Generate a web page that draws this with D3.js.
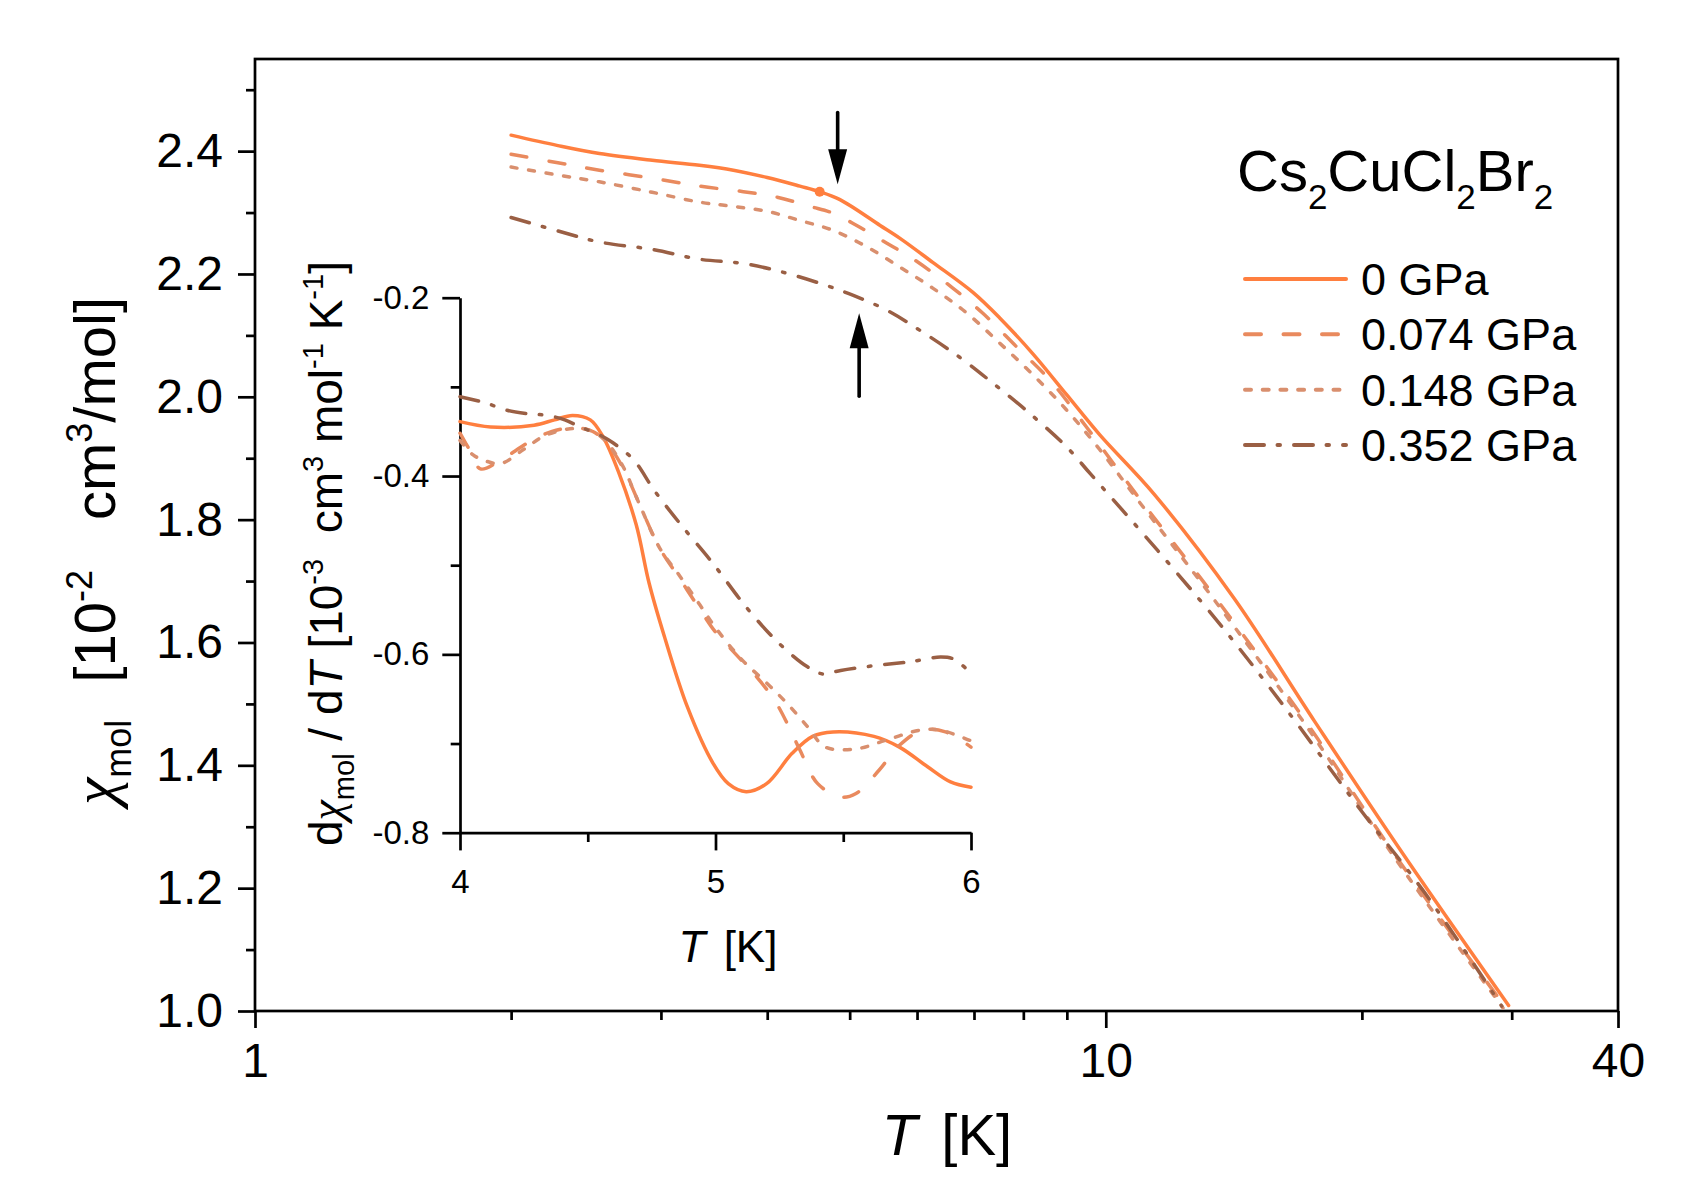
<!DOCTYPE html>
<html>
<head>
<meta charset="utf-8">
<script src="https://cdn.jsdelivr.net/npm/d3@7"></script>
<style>
  body { margin: 0; background: #fff; }
  svg { display: block; font-family: "Liberation Sans", Arial, sans-serif; }
  text { white-space: pre; }
</style>
</head>
<body>
<svg id="chart" width="1705" height="1190"></svg>
<script>
// ---- ticks ----
var tMajor = [1, 10, 40];
var tMinor = [2, 3, 4, 5, 6, 7, 8, 9, 20, 30];
var chiMajor = [1.0, 1.2, 1.4, 1.6, 1.8, 2.0, 2.2, 2.4];
var chiMinor = [1.1, 1.3, 1.5, 1.7, 1.9, 2.1, 2.3, 2.5];
var insetTMajor = [4, 5, 6];
var insetTMinor = [4.5, 5.5];
var dchiMajor = [-0.8, -0.6, -0.4, -0.2];
var dchiMinor = [-0.7, -0.5, -0.3];

// ---- series ----
var pressures = ["0 GPa", "0.074 GPa", "0.148 GPa", "0.352 GPa"];
var colors = ["#ff7f3f", "#e98a5e", "#d98f6e", "#9a5f44"];
var dashes = [null, "16,22.5", "6,11.7", "19,13.5,2.5,14"];

// chi_mol [1e-2 cm3/mol] vs T [K]
var chi0 = [[2.0,2.426],[2.27,2.409],[2.54,2.396],[2.93,2.385],[3.33,2.377],[3.65,2.369],[4.0,2.357],[4.37,2.343],[4.61,2.334],[4.87,2.321],[5.43,2.279],[5.73,2.258],[6.26,2.219],[6.98,2.170],[7.51,2.128],[8.21,2.070],[9.0,2.003],[9.84,1.938],[11.39,1.842],[14.15,1.672],[17.59,1.472],[22.4,1.254],[29.75,1.009]];
var chi074 = [[2.0,2.395],[2.27,2.381],[2.54,2.369],[2.93,2.356],[3.33,2.343],[3.75,2.334],[4.11,2.325],[4.49,2.31],[4.78,2.299],[5.14,2.276],[5.53,2.25],[5.93,2.225],[6.61,2.177],[7.17,2.136],[7.86,2.081],[8.6,2.027],[9.5,1.95],[10.85,1.842],[13.47,1.672],[17.17,1.472],[21.87,1.254],[29.5,1.006]];
var chi148 = [[2.0,2.374],[2.27,2.361],[2.54,2.350],[2.93,2.333],[3.33,2.317],[3.65,2.31],[4.0,2.302],[4.37,2.287],[4.78,2.271],[5.24,2.244],[5.73,2.211],[6.26,2.177],[6.87,2.136],[7.51,2.087],[8.21,2.036],[9.0,1.978],[9.84,1.914],[10.85,1.836],[13.47,1.666],[17.17,1.466],[21.87,1.249],[29.3,1.005]];
var chi352 = [[2.0,2.292],[2.27,2.27],[2.54,2.252],[2.93,2.240],[3.33,2.224],[3.75,2.217],[4.17,2.203],[4.70,2.181],[5.05,2.165],[5.53,2.141],[6.05,2.108],[6.74,2.064],[7.37,2.022],[8.14,1.973],[9.0,1.918],[9.6,1.874],[11.52,1.749],[13.8,1.62],[16.55,1.479],[19.84,1.331],[23.78,1.19],[29.2,1.008]];

// d chi / dT [1e-3 cm3 mol-1 K-1] vs T [K]
var dchi0 = [[4.0,-0.339],[4.12,-0.345],[4.29,-0.343],[4.37,-0.337],[4.44,-0.332],[4.51,-0.337],[4.56,-0.356],[4.62,-0.395],[4.69,-0.455],[4.74,-0.52],[4.80,-0.58],[4.89,-0.659],[4.99,-0.722],[5.05,-0.745],[5.12,-0.754],[5.2,-0.745],[5.3,-0.711],[5.38,-0.692],[5.46,-0.687],[5.62,-0.692],[5.72,-0.704],[5.83,-0.726],[5.92,-0.743],[6.0,-0.749]];
var dchi074 = [[4.0,-0.352],[4.04,-0.372],[4.08,-0.392],[4.16,-0.382],[4.27,-0.362],[4.36,-0.350],[4.45,-0.346],[4.52,-0.350],[4.58,-0.365],[4.64,-0.392],[4.7,-0.43],[4.78,-0.48],[4.86,-0.515],[4.94,-0.55],[5.0,-0.575],[5.08,-0.60],[5.16,-0.625],[5.23,-0.651],[5.28,-0.677],[5.33,-0.707],[5.40,-0.745],[5.49,-0.76],[5.55,-0.756],[5.64,-0.73],[5.72,-0.702],[5.81,-0.685],[5.9,-0.687],[6.0,-0.704]];
var dchi148 = [[4.0,-0.36],[4.05,-0.376],[4.1,-0.383],[4.16,-0.386],[4.25,-0.37],[4.33,-0.355],[4.43,-0.347],[4.5,-0.348],[4.56,-0.358],[4.63,-0.385],[4.7,-0.43],[4.78,-0.48],[4.86,-0.512],[4.94,-0.545],[5.0,-0.57],[5.1,-0.605],[5.2,-0.632],[5.28,-0.655],[5.36,-0.681],[5.43,-0.704],[5.55,-0.706],[5.67,-0.696],[5.8,-0.685],[5.88,-0.685],[6.0,-0.697]];
var dchi352 = [[4.0,-0.311],[4.1,-0.318],[4.18,-0.326],[4.26,-0.33],[4.34,-0.332],[4.41,-0.337],[4.47,-0.345],[4.54,-0.353],[4.6,-0.363],[4.68,-0.382],[4.76,-0.416],[4.86,-0.453],[4.99,-0.498],[5.12,-0.547],[5.25,-0.588],[5.36,-0.614],[5.42,-0.622],[5.49,-0.618],[5.64,-0.612],[5.77,-0.608],[5.88,-0.603],[5.93,-0.605],[6.0,-0.621]];

// annotations: kink point on 0 GPa curve, arrows [T, from, to]
var kink = [4.61, 2.334];
var arrowDown = [4.84, 2.463, 2.346];
var arrowUp = [5.13, 2.001, 2.136];

var mainSeries = [chi0, chi074, chi148, chi352];
var insetSeries = [dchi0, dchi074, dchi148, dchi352];

var svg = d3.select("#chart");
svg.append("rect").attr("width", 1705).attr("height", 1190).attr("fill", "#fff");

// scales
var x = d3.scaleLog().domain([1, 40]).range([255, 1618]);
var y = d3.scaleLinear().domain([1.0, 2.55]).range([1011, 59]);
var xi = d3.scaleLinear().domain([4, 6]).range([460, 971]);
var yi = d3.scaleLinear().domain([-0.8, -0.2]).range([832.7, 297.7]);

function styleAxis(g, fs, keepDomain) {
  if (!keepDomain) g.select(".domain").remove();
  else g.select(".domain").attr("stroke", "#000").attr("stroke-width", 2.7);
  g.selectAll(".tick line").attr("stroke", "#000").attr("stroke-width", 2.7);
  g.selectAll(".tick text").attr("font-size", fs)
    .attr("font-family", "'Liberation Sans', Arial, sans-serif").attr("fill", "#000");
}

// ---- main axes ----
svg.append("g").attr("transform", "translate(0,1011)")
  .call(d3.axisBottom(x).tickValues(tMajor).tickFormat(d3.format("d")).tickSize(17).tickPadding(15).tickSizeOuter(0))
  .call(styleAxis, 48);
svg.append("g").attr("transform", "translate(0,1011)")
  .call(d3.axisBottom(x).tickValues(tMinor).tickFormat("").tickSize(9).tickSizeOuter(0))
  .call(styleAxis, 48);
svg.append("g").attr("transform", "translate(255,0)")
  .call(d3.axisLeft(y).tickValues(chiMajor).tickFormat(d3.format(".1f")).tickSize(17).tickPadding(15).tickSizeOuter(0))
  .call(styleAxis, 48);
svg.append("g").attr("transform", "translate(255,0)")
  .call(d3.axisLeft(y).tickValues(chiMinor).tickFormat("").tickSize(9).tickSizeOuter(0))
  .call(styleAxis, 48);

svg.append("rect")
  .attr("x", x.range()[0]).attr("y", y.range()[1])
  .attr("width", x.range()[1] - x.range()[0]).attr("height", y.range()[0] - y.range()[1])
  .attr("fill", "none").attr("stroke", "#000").attr("stroke-width", 2.7);

// ---- main curves ----
var line = d3.line()
  .x(function (d) { return x(d[0]); })
  .y(function (d) { return y(d[1]); })
  .curve(d3.curveCatmullRom.alpha(0.5));

mainSeries.forEach(function (s, i) {
  svg.append("path").datum(s)
    .attr("d", line)
    .attr("fill", "none")
    .attr("stroke", colors[i])
    .attr("stroke-width", 3.5)
    .attr("stroke-linecap", "round")
    .attr("stroke-dasharray", dashes[i]);
});

svg.append("circle")
  .attr("cx", x(kink[0])).attr("cy", y(kink[1])).attr("r", 5)
  .attr("fill", colors[0]);

// arrows
function arrow(a) {
  var px = x(a[0]), p0 = y(a[1]), p1 = y(a[2]);
  var dir = p1 > p0 ? 1 : -1;
  var headLen = 35, headW = 9.5;
  svg.append("line")
    .attr("x1", px).attr("x2", px).attr("y1", p0).attr("y2", p1 - dir * headLen + dir * 2)
    .attr("stroke", "#000").attr("stroke-width", 3.6).attr("stroke-linecap", "round");
  svg.append("path")
    .attr("d", "M" + px + "," + p1 + "L" + (px - headW) + "," + (p1 - dir * headLen) +
      "L" + (px + headW) + "," + (p1 - dir * headLen) + "Z")
    .attr("fill", "#000");
}
arrow(arrowDown);
arrow(arrowUp);

// ---- main titles ----
var xTitle = svg.append("text").attr("x", 947).attr("y", 1155)
  .attr("text-anchor", "middle").attr("font-size", 58);
xTitle.append("tspan").attr("font-style", "italic").text("T");
xTitle.append("tspan").attr("dx", 8).text(" [K]");

var yTitle = svg.append("text").attr("transform", "translate(115,805) rotate(-90)")
  .attr("font-size", 58);
yTitle.append("tspan").attr("font-family", "'Liberation Serif', serif").attr("font-style", "italic").attr("font-size", 62).text("\u03c7");
yTitle.append("tspan").attr("font-size", 36).attr("dy", 16).text("mol");
yTitle.append("tspan").attr("dy", -16).attr("dx", 37).text("[10");
yTitle.append("tspan").attr("font-size", 36).attr("dy", -23).text("-2");
yTitle.append("tspan").attr("dy", 23).attr("dx", 50).text("cm");
yTitle.append("tspan").attr("font-size", 36).attr("dy", -23).text("3");
yTitle.append("tspan").attr("dy", 23).text("/mol]");

// ---- legend ----
var lTitle = svg.append("text").attr("x", 1237).attr("y", 191).attr("font-size", 58);
var formula = [["Cs", "2"], ["CuCl", "2"], ["Br", "2"]];
formula.forEach(function (p, k) {
  lTitle.append("tspan").attr("dy", k === 0 ? 0 : -18).text(p[0]);
  lTitle.append("tspan").attr("font-size", 35).attr("dy", 18).text(p[1]);
});

var legY = d3.scalePoint().domain(pressures).range([279, 445]);
pressures.forEach(function (p, i) {
  svg.append("line")
    .attr("x1", 1245).attr("x2", 1346).attr("y1", legY(p)).attr("y2", legY(p))
    .attr("stroke", colors[i]).attr("stroke-width", 4)
    .attr("stroke-linecap", "round").attr("stroke-dasharray", dashes[i]);
  svg.append("text").attr("x", 1361).attr("y", legY(p) + 16)
    .attr("font-size", 45).text(p);
});

// ---- inset ----
svg.append("g").attr("transform", "translate(0,832.7)")
  .call(d3.axisBottom(xi).tickValues(insetTMajor).tickFormat(d3.format("d")).tickSize(17.7).tickPadding(19).tickSizeOuter(0))
  .call(styleAxis, 33, true);
svg.append("g").attr("transform", "translate(0,832.7)")
  .call(d3.axisBottom(xi).tickValues(insetTMinor).tickFormat("").tickSize(9.3).tickSizeOuter(0))
  .call(styleAxis, 33);
svg.append("g").attr("transform", "translate(460,0)")
  .call(d3.axisLeft(yi).tickValues(dchiMajor).tickFormat(function (d) { return d.toFixed(1); }).tickSize(17.7).tickPadding(13).tickSizeOuter(0))
  .call(styleAxis, 33, true);
svg.append("g").attr("transform", "translate(460,0)")
  .call(d3.axisLeft(yi).tickValues(dchiMinor).tickFormat("").tickSize(9.3).tickSizeOuter(0))
  .call(styleAxis, 33);

var iline = d3.line()
  .x(function (d) { return xi(d[0]); })
  .y(function (d) { return yi(d[1]); })
  .curve(d3.curveCatmullRom.alpha(0.5));

insetSeries.forEach(function (s, i) {
  svg.append("path").datum(s)
    .attr("d", iline)
    .attr("fill", "none")
    .attr("stroke", colors[i])
    .attr("stroke-width", 3.5)
    .attr("stroke-linecap", "round")
    .attr("stroke-dasharray", dashes[i]);
});

var ixTitle = svg.append("text").attr("x", 728).attr("y", 962)
  .attr("text-anchor", "middle").attr("font-size", 44);
ixTitle.append("tspan").attr("font-style", "italic").text("T");
ixTitle.append("tspan").attr("dx", 6).text(" [K]");

var iyTitle = svg.append("text").attr("transform", "translate(342,846) rotate(-90)")
  .attr("font-size", 46);
iyTitle.append("tspan").text("d");
iyTitle.append("tspan").attr("font-family", "'Liberation Serif', serif").attr("font-style", "italic").text("\u03c7");
iyTitle.append("tspan").attr("font-size", 29).attr("dy", 12).text("mol");
iyTitle.append("tspan").attr("dy", -12).text(" / d");
iyTitle.append("tspan").attr("font-style", "italic").text("T");
iyTitle.append("tspan").text(" [10");
iyTitle.append("tspan").attr("font-size", 29).attr("dy", -19).text("-3");
iyTitle.append("tspan").attr("dy", 19).text("  cm");
iyTitle.append("tspan").attr("font-size", 29).attr("dy", -19).text("3");
iyTitle.append("tspan").attr("dy", 19).text(" mol");
iyTitle.append("tspan").attr("font-size", 29).attr("dy", -19).text("-1");
iyTitle.append("tspan").attr("dy", 19).text(" K");
iyTitle.append("tspan").attr("font-size", 29).attr("dy", -19).text("-1");
iyTitle.append("tspan").attr("dy", 19).text("]");
</script>
</body>
</html>
